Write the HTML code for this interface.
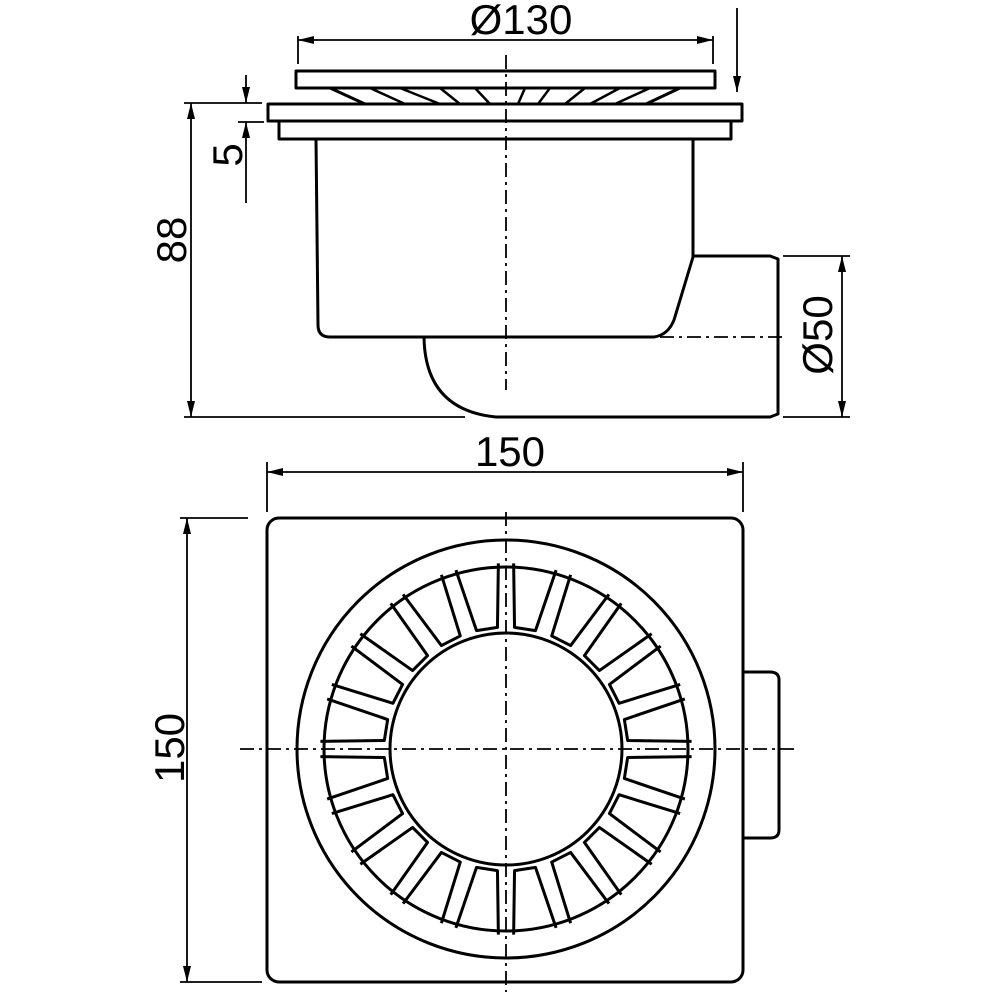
<!DOCTYPE html>
<html><head><meta charset="utf-8"><style>
html,body{margin:0;padding:0;background:#fff;}
svg{display:block;}
text{font-family:"Liberation Sans",sans-serif;font-size:42px;fill:#000;}
</style></head><body>
<svg width="1000" height="1000" viewBox="0 0 1000 1000" xmlns="http://www.w3.org/2000/svg">
<defs>
<marker id="a" viewBox="0 0 16 8" refX="16" refY="4" markerWidth="16" markerHeight="8" markerUnits="userSpaceOnUse" orient="auto-start-reverse"><path d="M0,0 L16,4 L0,8 z" fill="#000"/></marker>
<polyline id="s" points="-21.5,-184.5 -10.6,-121.5 10.6,-121.5 21.5,-184.5" fill="none" stroke="#000" stroke-width="3" stroke-linejoin="round"/>
</defs>
<g fill="none" stroke="#000" stroke-width="3" stroke-linejoin="round">
<rect x="296" y="71" width="419" height="17"/>
<path d="M330,88 L365,104 M646,104 L680,88"/>
<g stroke-width="2.5">
<path d="M370,88 L405,104 M400,88 L440,104 M440,88 L460,104 M475,88 L490,104 M525,88 L518,104 M550,88 L538,104 M585,88 L565,104 M620,88 L590,104 M650,88 L615,104"/>
</g>
<rect x="268" y="104" width="474" height="17"/>
<rect x="279" y="121" width="452" height="18"/>
<path d="M316,139 L318,325 Q318,337 330,337 L654,337 Q668,335 674,320 L693,257 L693,139"/>
<path d="M693,256 L770,256 L778,259 L778,414 L770,417 L496,417 Q425,410 424,337"/>
</g>
<g stroke="#000" stroke-width="1.8" fill="none">
<path d="M506,55 L506,390 M660,337 L782,337 M506,512 L506,992 M240,749 L795,749" stroke-dasharray="14,5,3,5"/>
<path d="M298,36 L298,64 M713,36 L713,64"/>
<path d="M298,40 L713,40" marker-start="url(#a)" marker-end="url(#a)"/>
<path d="M737,8 L737,92" marker-end="url(#a)"/>
<path d="M184,103 L262,103 M184,417 L465,417"/>
<path d="M191,103 L191,417" marker-start="url(#a)" marker-end="url(#a)"/>
<path d="M246,75 L246,103" marker-end="url(#a)"/>
<path d="M246,203 L246,122" marker-end="url(#a)"/>
<path d="M238,122 L264,122"/>
<path d="M783,256 L850,256 M783,417 L850,417"/>
<path d="M842,256 L842,417" marker-start="url(#a)" marker-end="url(#a)"/>
<path d="M267,462 L267,512 M743,462 L743,512"/>
<path d="M267,472 L743,472" marker-start="url(#a)" marker-end="url(#a)"/>
<path d="M180,518 L248,518 M180,982 L262,982"/>
<path d="M187,518 L187,982" marker-start="url(#a)" marker-end="url(#a)"/>
</g>
<g fill="none" stroke="#000" stroke-width="3">
<rect x="267" y="518" width="476" height="464" rx="12"/>
<path d="M743,672 L770,672 Q779,672 779,680 L779,830 Q779,838 770,838 L743,838"/>
<circle cx="506" cy="749" r="209"/>
<circle cx="506" cy="749" r="182"/>
<circle cx="506" cy="749" r="116"/>
</g>
<g transform="translate(506,749)">
<use href="#s" transform="rotate(-9)"/><use href="#s" transform="rotate(9)"/>
<use href="#s" transform="rotate(27)"/><use href="#s" transform="rotate(45)"/>
<use href="#s" transform="rotate(63)"/><use href="#s" transform="rotate(81)"/>
<use href="#s" transform="rotate(99)"/><use href="#s" transform="rotate(117)"/>
<use href="#s" transform="rotate(135)"/><use href="#s" transform="rotate(153)"/>
<use href="#s" transform="rotate(171)"/><use href="#s" transform="rotate(189)"/>
<use href="#s" transform="rotate(207)"/><use href="#s" transform="rotate(225)"/>
<use href="#s" transform="rotate(243)"/><use href="#s" transform="rotate(261)"/>
<use href="#s" transform="rotate(279)"/><use href="#s" transform="rotate(297)"/>
<use href="#s" transform="rotate(315)"/><use href="#s" transform="rotate(333)"/>
</g>
<text x="521" y="34" text-anchor="middle">Ø130</text>
<text x="510" y="466" text-anchor="middle">150</text>
<text transform="translate(186,240) rotate(-90)" text-anchor="middle">88</text>
<text transform="translate(242,155) rotate(-90)" text-anchor="middle">5</text>
<text transform="translate(832,335) rotate(-90)" text-anchor="middle">Ø50</text>
<text transform="translate(184,748) rotate(-90)" text-anchor="middle">150</text>
</svg>
</body></html>
